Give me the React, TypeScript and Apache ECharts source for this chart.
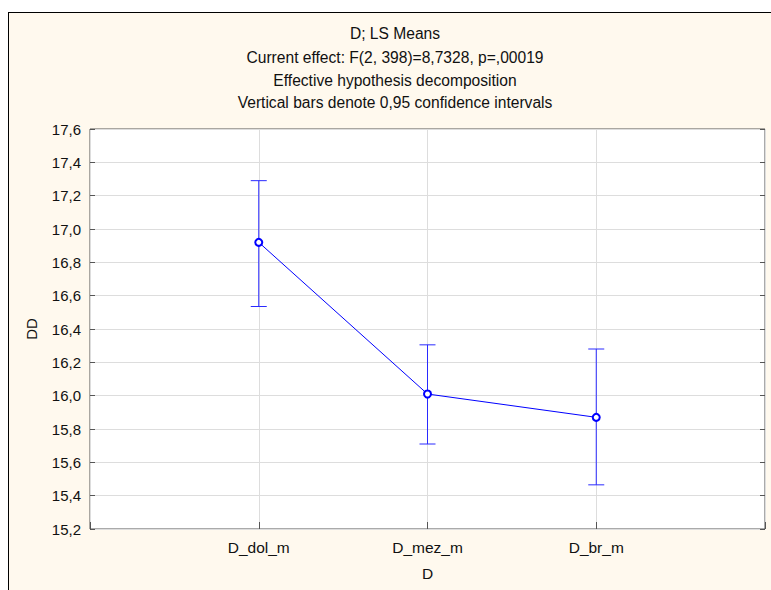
import React, { useEffect, useRef } from "react";
import * as echarts from "echarts";

const categories = ["D_dol_m", "D_mez_m", "D_br_m"];
const means = [16.92, 16.01, 15.87];
const upper = [17.29, 16.305, 16.28];
const lower = [16.535, 15.71, 15.465];
const titleLines = [
  "D; LS Means",
  "Current effect: F(2, 398)=8,7328, p=,00019",
  "Effective hypothesis decomposition",
  "Vertical bars denote 0,95 confidence intervals",
];
const yMin = 15.2;
const yMax = 17.6;
const yStep = 0.2;

const FONT = "'Liberation Sans', Arial, sans-serif";
const BLUE = "#0000ff";

export default function App() {
  const ref = useRef<HTMLDivElement>(null);
  useEffect(() => {
    if (!ref.current) return;
    const chart = echarts.init(ref.current, null, { renderer: "svg" });
    const xs = categories.map((_, i) => i + 1);
    const lineData = xs.map((x, i) => [x, means[i]]);
    const errData = xs.map((x, i) => [x, lower[i], upper[i]]);
    const titleY = [20, 44, 67, 89];
    chart.setOption({
      animation: false,
      backgroundColor: "transparent",
      textStyle: { fontFamily: FONT },
      graphic: titleLines.map((t, i) => ({
        type: "text",
        x: 386,
        y: titleY[i],
        style: {
          text: t,
          fill: "#111",
          font: `15.6px ${FONT}`,
          textAlign: "center",
          textVerticalAlign: "middle",
        },
      })),
      grid: {
        left: 81,
        top: 116,
        width: 675,
        height: 400,
        show: true,
        backgroundColor: "#ffffff",
        borderColor: "#555",
        borderWidth: 1,
      },
      xAxis: {
        type: "value",
        min: 0,
        max: categories.length + 1,
        interval: 1,
        name: "D",
        nameLocation: "middle",
        nameGap: 36,
        nameTextStyle: { fontSize: 15.5, color: "#111", fontFamily: FONT },
        axisLine: { show: false },
        axisTick: { show: true, inside: true, length: 7, lineStyle: { color: "#555" } },
        axisLabel: {
          fontSize: 15.5,
          color: "#111",
          margin: 10,
          fontFamily: FONT,
          formatter: (v: number) => categories[v - 1] ?? "",
        },
        splitLine: { show: true, lineStyle: { color: "#dddddd", width: 1 } },
      },
      yAxis: [
        {
          type: "value",
          min: yMin,
          max: yMax,
          interval: yStep,
          name: "DD",
          nameLocation: "middle",
          nameGap: 51,
          nameTextStyle: { fontSize: 15, color: "#111", fontFamily: FONT },
          axisLine: { show: false },
          axisTick: { show: true, inside: true, length: 5, lineStyle: { color: "#555" } },
          axisLabel: {
            fontSize: 15,
            color: "#111",
            margin: 9,
            fontFamily: FONT,
            formatter: (v: number) => v.toFixed(1).replace(".", ","),
          },
          splitLine: { show: true, lineStyle: { color: "#dddddd", width: 1 } },
        },
        {
          type: "value",
          min: yMin,
          max: yMax,
          interval: yStep,
          position: "right",
          axisLine: { show: false },
          axisTick: { show: true, inside: true, length: 5, lineStyle: { color: "#555" } },
          axisLabel: { show: false },
          splitLine: { show: false },
        },
      ],
      series: [
        {
          type: "custom",
          data: errData,
          z: 2,
          renderItem: (params: any, api: any) => {
            const x = api.value(0);
            const lo = api.coord([x, api.value(1)]);
            const hi = api.coord([x, api.value(2)]);
            const hw = 8;
            const style = { stroke: "#2a2aff", lineWidth: 1 };
            return {
              type: "group",
              children: [
                { type: "line", shape: { x1: lo[0], y1: lo[1], x2: hi[0], y2: hi[1] }, style },
                { type: "line", shape: { x1: hi[0] - hw, y1: hi[1], x2: hi[0] + hw, y2: hi[1] }, style },
                { type: "line", shape: { x1: lo[0] - hw, y1: lo[1], x2: lo[0] + hw, y2: lo[1] }, style },
              ],
            };
          },
        },
        {
          type: "line",
          data: lineData,
          z: 3,
          symbol: "emptyCircle",
          symbolSize: 7,
          lineStyle: { color: BLUE, width: 1 },
          itemStyle: { color: BLUE, borderColor: BLUE, borderWidth: 1 },
        },
      ],
    });
    return () => chart.dispose();
  }, []);
  return (
    <div
      style={{
        position: "fixed",
        left: 8,
        top: 12,
        right: 0,
        bottom: 0,
        background: "#fff9ee",
        borderTop: "1px solid #000",
        borderLeft: "1px solid #000",
      }}
    >
      <div ref={ref} style={{ width: 762, height: 577 }} />
    </div>
  );
}
